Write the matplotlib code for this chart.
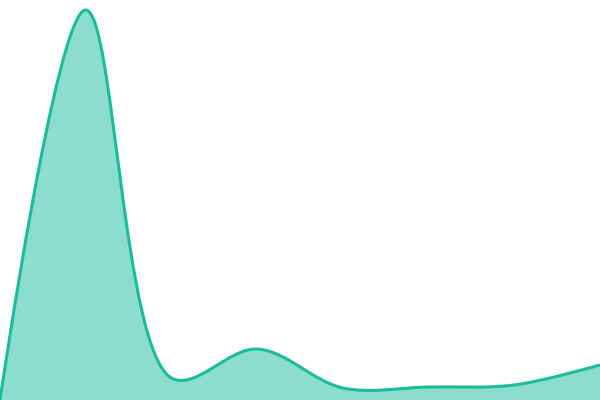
import matplotlib
matplotlib.use("Agg")
import matplotlib.pyplot as plt
from matplotlib.path import Path
from matplotlib.patches import PathPatch

# ---------- data ----------
positions = [0, 1, 2, 3, 4, 5, 6, 7]
values = [0, 390, 22, 51, 12, 13, 15, 35]
y_max = 400

line_color = "#1abc9c"
outfile = "out.png"
W, H = 600, 400
# ---------------------------------------------------


def catmull_rom_vertices(pts, alpha=0.5):
    """Centripetal Catmull-Rom as cubic bezier vertices (screen space)."""
    n = len(pts)
    verts = [pts[0]]
    codes = [Path.MOVETO]

    def dist_a(a, b):
        d2 = (a[0] - b[0]) ** 2 + (a[1] - b[1]) ** 2
        return d2 ** (alpha / 2), d2 ** alpha

    for i in range(n - 1):
        p1, p2 = pts[i], pts[i + 1]
        c1, c2 = p1, p2
        l12_a, l12_2a = dist_a(p1, p2)
        if i > 0:
            p0 = pts[i - 1]
            l01_a, l01_2a = dist_a(p0, p1)
            if l01_a > 1e-12:
                a = 2 * l01_2a + 3 * l01_a * l12_a + l12_2a
                m = 3 * l01_a * (l01_a + l12_a)
                c1 = ((p1[0] * a - p0[0] * l12_2a + p2[0] * l01_2a) / m,
                      (p1[1] * a - p0[1] * l12_2a + p2[1] * l01_2a) / m)
        if i + 2 < n:
            p3 = pts[i + 2]
            l23_a, l23_2a = dist_a(p2, p3)
            if l23_a > 1e-12:
                b = 2 * l23_2a + 3 * l23_a * l12_a + l12_2a
                m = 3 * l23_a * (l23_a + l12_a)
                c2 = ((p2[0] * b + p1[0] * l23_2a - p3[0] * l12_2a) / m,
                      (p2[1] * b + p1[1] * l23_2a - p3[1] * l12_2a) / m)
        verts += [c1, c2, p2]
        codes += [Path.CURVE4] * 3
    return verts, codes


fig = plt.figure(figsize=(6, 4), dpi=100)
ax = fig.add_axes([0, 0, 1, 1])
ax.set_xlim(positions[0], positions[-1])
ax.set_ylim(0, y_max)
ax.axis("off")

# spline is built in pixel space, then mapped back to data coords
to_px = ax.transData
px = to_px.transform(list(zip(positions, values)))
verts_px, codes = catmull_rom_vertices([tuple(p) for p in px])
verts = to_px.inverted().transform(verts_px).tolist()

# filled area down to the baseline
fill_verts = verts + [(positions[-1], 0), (positions[0], 0), verts[0]]
fill_codes = codes + [Path.LINETO, Path.LINETO, Path.CLOSEPOLY]
ax.add_patch(PathPatch(Path(fill_verts, fill_codes), facecolor=line_color,
                       alpha=0.5, edgecolor="none"))

# outline
ax.add_patch(PathPatch(Path(verts, codes), facecolor="none",
                       edgecolor=line_color, linewidth=2.2))

fig.savefig(outfile, dpi=100)
